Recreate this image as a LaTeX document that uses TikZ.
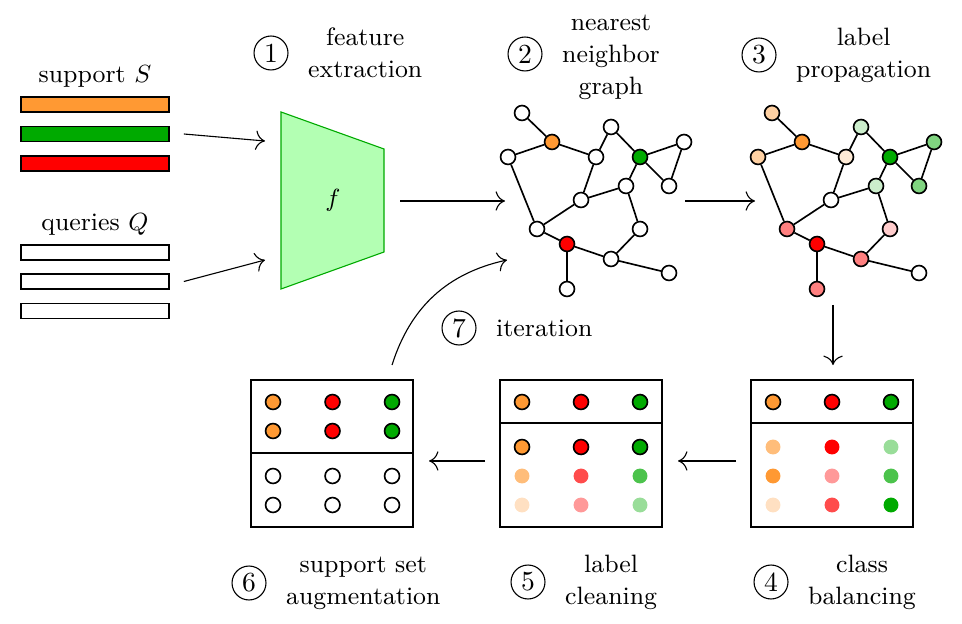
\documentclass[tikz,border=0pt]{standalone}
\usetikzlibrary{positioning,arrows.meta}

\definecolor{corange}{HTML}{FF9933}
\definecolor{cgreen}{HTML}{00AA00}
\definecolor{cred}{HTML}{FF0000}
\definecolor{ftrfill}{HTML}{B3FFB3}

\tikzset{
  vtx/.style={circle, draw, semithick, fill=white, minimum size=5.4pt, inner sep=0pt},
  pdot/.style={circle, fill=#1, minimum size=5.4pt, inner sep=0pt},
  num/.style={circle, draw, inner sep=0pt, minimum size=12.3pt, font=\fontsize{10pt}{12pt}\selectfont},
  txt/.style={align=center},
  bar/.style={draw, semithick, minimum width=53.6pt, minimum height=5.4pt, inner sep=0pt, outer sep=0pt},
  box/.style={draw, semithick, minimum width=58.7pt, minimum height=53.3pt, inner sep=0pt, outer sep=0pt},
}

\begin{document}
\begin{tikzpicture}[x=0.3623pt, y=-0.3623pt, node distance=3.6pt,
  >={To[length=3.4pt, width=7pt]},
  every node/.style={font=\fontsize{9.1pt}{11.6pt}\selectfont}]
\useasboundingbox (0,0) rectangle (962,624);

% support and queries
\node[bar, fill=corange] (s1) at (95,104.5) {};
\node[bar, fill=cgreen] (s2) at (95,134) {};
\node[bar, fill=cred] (s3) at (95,163.5) {};
\node[bar] (q1) at (95,252.5) {};
\node[bar] (q2) at (95,281.5) {};
\node[bar] (q3) at (95,311) {};
\node[above=0pt of s1] (slbl) {support $S$};
\node[above=0pt of q1] (qlbl) {queries $Q$};

% feature extractor
\filldraw[draw=cgreen, fill=ftrfill] (281,112) -- (384,149) -- (384,252) -- (281,289) -- cycle;
\node (f) at (333,200) {$f$};
\coordinate (fin1) at (265,141);
\coordinate (fin2) at (265,260);
\draw[->] ([xshift=5.4pt]s2.east) -- (fin1);
\draw[->] ([xshift=5.4pt]q2.east) -- (fin2);
\node[num] (n1) at (271,53) {1};
\node[txt, right=of n1] (t1) {feature\\extraction};

% graphs
\foreach \i/\x/\y/\ca/\cb in {
  1/522/113/white/corange!45, 2/552/142/corange/corange, 3/508/157/white/corange!45,
  4/596/157/white/corange!20, 5/611/127/white/cgreen!20, 6/640/157/cgreen/cgreen,
  7/684/142/white/cgreen!50, 8/669/186/white/cgreen!50, 9/626/186/white/cgreen!20,
  10/581/200/white/white, 11/537/229/white/cred!50, 12/567/244/cred/cred,
  13/640/229/white/cred!20, 14/611/259/white/cred!50, 15/669/273/white/white,
  16/567/289/white/cred!50}
{
  \node[vtx, fill=\ca] (a\i) at (\x,\y) {};
  \node[vtx, fill=\cb] (b\i) at (\x+250,\y) {};
}
\foreach \u/\v in {1/2,2/3,2/4,4/5,5/6,6/7,7/8,6/8,6/9,4/10,9/10,3/11,10/11,11/12,12/16,12/14,9/13,13/14,14/15}
{
  \draw[semithick] (a\u) -- (a\v);
  \draw[semithick] (b\u) -- (b\v);
}
\coordinate (fout) at (400,201);
\coordinate (gin) at (505,201);
\draw[->] (fout) -- (gin);
\coordinate (gout) at (685,201);
\coordinate (pin) at (755,201);
\draw[->] (gout) -- (pin);
\node[num] (n2) at (525,54) {2};
\node[txt, right=of n2, yshift=-1.2pt] (t2) {nearest\\neighbor\\graph};
\node[num] (n3) at (759,55) {3};
\node[txt, right=of n3] (t3) {label\\propagation};

% boxes
\node[box] (box4) at (832,453.5) {};
\node[box] (box5) at (581,453.5) {};
\node[box] (box6) at (332,453.5) {};
\coordinate (div45) at (0,423);
\coordinate (div6) at (0,453);
\draw[thick] (box4.west |- div45) -- (box4.east |- div45);
\draw[thick] (box5.west |- div45) -- (box5.east |- div45);
\draw[thick] (box6.west |- div6) -- (box6.east |- div6);

\foreach \k/\cl in {0/corange,1/cred,2/cgreen}
{
  \node[vtx, fill=\cl] (b4s\k) at (773+59*\k,402) {};
  \node[vtx, fill=\cl] (b5s\k) at (522+59*\k,402) {};
  \node[vtx, fill=\cl] (b5c\k) at (522+59*\k,447) {};
  \node[vtx, fill=\cl] (b6s\k) at (273+59.5*\k,402) {};
  \node[vtx, fill=\cl] (b6t\k) at (273+59.5*\k,431) {};
  \node[vtx] (b6q\k) at (273+59.5*\k,476) {};
  \node[vtx] (b6r\k) at (273+59.5*\k,505) {};
}
\foreach \k/\ca/\cb/\cc in {0/corange!65/corange/corange!30, 1/cred/cred!40/cred!70, 2/cgreen!40/cgreen!70/cgreen}
{
  \node[pdot=\ca] (b4a\k) at (773+59*\k,447) {};
  \node[pdot=\cb] (b4b\k) at (773+59*\k,476) {};
  \node[pdot=\cc] (b4c\k) at (773+59*\k,505) {};
}
\foreach \k/\ca/\cb in {0/corange!65/corange!30, 1/cred!70/cred!40, 2/cgreen!70/cgreen!40}
{
  \node[pdot=\ca] (b5a\k) at (522+59*\k,476) {};
  \node[pdot=\cb] (b5b\k) at (522+59*\k,505) {};
}

\coordinate (pout) at (833,305);
\draw[->, shorten >=5.4pt] (pout) -- (pout |- box4.north);
\draw[->, shorten <=5.4pt, shorten >=5.8pt] ([yshift=-2.7pt]box4.west) -- ([yshift=-2.7pt]box5.east);
\draw[->, shorten <=5.4pt, shorten >=5.8pt] ([yshift=-2.7pt]box5.west) -- ([yshift=-2.7pt]box6.east);

\node[num] (n4) at (771,582) {4};
\node[txt, right=of n4] (t4) {class\\balancing};
\node[num] (n5) at (528,582) {5};
\node[txt, right=of n5] (t5) {label\\cleaning};
\node[num] (n6) at (249,583) {6};
\node[txt, right=of n6] (t6) {support set\\augmentation};

% iteration
\coordinate (itstart) at (392,365);
\coordinate (itend) at (507,260);
\draw[->] (itstart) to[bend left=30] (itend);
\node[num] (n7) at (459,328) {7};
\node[txt, right=of n7] (t7) {iteration};
\end{tikzpicture}
\end{document}
